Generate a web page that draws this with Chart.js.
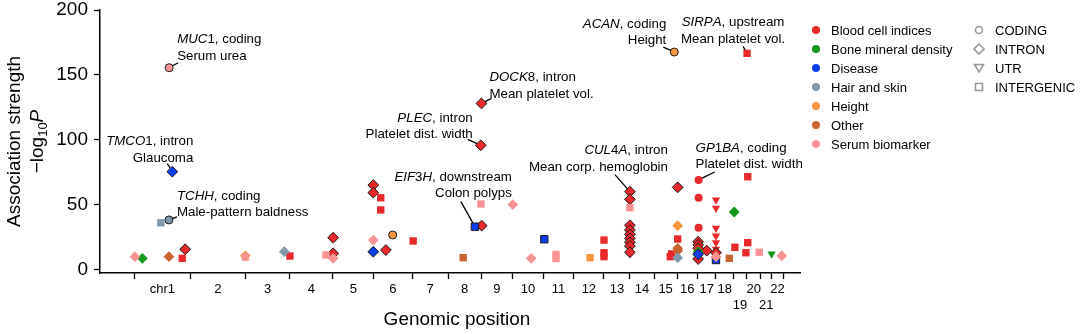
<!DOCTYPE html>
<html>
<head>
<meta charset="utf-8">
<script src="https://cdn.jsdelivr.net/npm/chart.js@4.4.1/dist/chart.umd.min.js"></script>
<style>
  body { margin: 0; background: #fff; }
  #wrap { width: 1080px; height: 334px; }
</style>
</head>
<body>
<div id="wrap"><canvas id="chart" width="1080" height="334"></canvas></div>
<script>
var FONT = '"Liberation Sans", Arial, sans-serif';

// chromosome sizes in Mb (GRCh37), laid end to end along the x axis
var chromNames = ["chr1", "2", "3", "4", "5", "6", "7", "8", "9", "10", "11",
  "12", "13", "14", "15", "16", "17", "18", "19", "20", "21", "22"];
var chromLengths = [249.3, 243.2, 198.0, 191.2, 180.9, 171.1, 159.1, 146.4,
  141.2, 135.5, 135.0, 133.9, 115.2, 107.3, 102.5, 90.4, 81.2, 78.1, 59.1,
  63.0, 48.1, 51.3];
// these two labels sit one line lower so they don't run into neighbours
var loweredLabels = ["19", "21"];
var yTicks = [0, 50, 100, 150, 200];

// [genome position (Mb), -log10 P, consequence, lead variant]
// consequence: c = coding, i = intron, u = UTR, g = intergenic
var bloodCell = [
  [226, 15.6, "i", 1], [213, 8.6, "g", 0], [691, 10.4, "g", 0],
  [883, 24.5, "i", 1], [883, 12.5, "i", 1],
  [1061, 65.1, "i", 1], [1061, 59.2, "i", 1],
  [1094, 55.3, "g", 0], [1094, 45.9, "g", 0],
  [1117, 15, "i", 1], [1238, 22, "g", 0],
  [1542, 33.8, "i", 1], [1541, 128, "i", 1], [1538, 95.7, "i", 1],
  [2085, 22.7, "g", 0], [2085, 12.9, "g", 0], [2085, 9.9, "g", 0],
  [2200, 60, "i", 1], [2200, 54.1, "i", 1], [2200, 34.1, "i", 1],
  [2200, 30.4, "i", 1], [2200, 27.1, "i", 1], [2200, 24, "i", 1],
  [2200, 21, "i", 1], [2200, 18.1, "i", 1], [2200, 13.3, "i", 1],
  [2385, 12, "g", 0], [2379, 9.9, "g", 0],
  [2412, 63.3, "i", 1], [2412, 23.5, "g", 0],
  [2505, 69, "c", 0], [2505, 55.3, "c", 0], [2505, 32.2, "c", 0],
  [2503, 21.4, "i", 1], [2503, 18.9, "i", 1], [2503, 16.3, "i", 1],
  [2503, 8.1, "i", 1], [2541, 14.5, "i", 1],
  [2582, 53.6, "u", 0], [2582, 47.2, "u", 0], [2582, 31.8, "u", 0],
  [2582, 25.8, "u", 0], [2582, 20.7, "u", 0], [2582, 15.6, "u", 0],
  [2582, 12.9, "i", 1], [2666, 17.1, "g", 0],
  [2720, 166.6, "g", 0], [2723, 71.5, "g", 0], [2723, 20.7, "g", 0],
  [2715, 12.9, "g", 0]
];
var boneDensity = [
  [36, 8.6, "i", 0], [2663, 44.3, "i", 0], [2829, 12, "u", 0], [2503, 13.7, "i", 0]
];
var disease = [
  [169, 75.4, "i", 1], [1061, 13.7, "i", 1], [1512, 33, "g", 1],
  [1820, 23.3, "g", 1], [2503, 11.7, "i", 1], [2582, 7.3, "g", 1]
];
var hairSkin = [
  [118, 36, "g", 0], [154, 38.2, "c", 1], [666, 13.7, "i", 0], [2412, 9.1, "i", 0]
];
var height = [
  [2397, 167.6, "c", 1], [1147, 26.6, "c", 1], [2023, 9.1, "g", 0],
  [2412, 33.8, "i", 0], [493, 10.5, "i", 0]
];
var other = [
  [154, 9.9, "i", 0], [1460, 9.1, "g", 0], [2412, 16.3, "i", 0],
  [2412, 14.5, "i", 0], [2641, 8.6, "g", 0]
];
var serum = [
  [155, 155.5, "c", 1], [3, 9.9, "i", 0], [493, 9.6, "g", 0], [851, 11.2, "g", 0],
  [883, 8.6, "i", 0], [1061, 22.7, "i", 0], [1539, 50.5, "g", 0],
  [1680, 50, "i", 0], [1762, 8.6, "i", 0], [1872, 11.5, "g", 0],
  [1872, 8.5, "g", 0], [2200, 47.6, "g", 0], [2582, 9.9, "i", 0],
  [2774, 13.3, "g", 0], [2874, 10.6, "i", 0]
];

// labelled hits: gene, consequence, trait, and the point they belong to
var callouts = [
  ["MUC1", "coding", "Serum urea", 155, 155.5],
  ["TMCO1", "intron", "Glaucoma", 169, 75.4],
  ["TCHH", "coding", "Male-pattern baldness", 154, 38.2],
  ["ACAN", "coding", "Height", 2397, 167.6],
  ["SIRPA", "upstream", "Mean platelet vol.", 2720, 166.6],
  ["DOCK8", "intron", "Mean platelet vol.", 1541, 128],
  ["PLEC", "intron", "Platelet dist. width", 1538, 95.7],
  ["EIF3H", "downstream", "Colon polyps", 1512, 33],
  ["CUL4A", "intron", "Mean corp. hemoglobin", 2200, 60],
  ["GP1BA", "coding", "Platelet dist. width", 2505, 69]
];

// text placement for each callout, in px relative to its point:
// text anchor (tx, ty = first line centre), alignment, leader end (lx, ly)
var calloutLayout = {
  MUC1:  { tx: 8,   ty: -28,  align: "left",   lx: 9,   ly: -5 },
  TMCO1: { tx: 21,  ty: -30,  align: "right",  lx: -5,  ly: -8 },
  TCHH:  { tx: 8,   ty: -24,  align: "left",   lx: 8,   ly: -3 },
  ACAN:  { tx: -8,  ty: -28,  align: "right",  lx: -11, ly: -5 },
  SIRPA: { tx: -14, ty: -30.6, align: "center", lx: -4,  ly: -7 },
  DOCK8: { tx: 8,   ty: -26,  align: "left",   lx: 10,  ly: -5 },
  PLEC:  { tx: -8,  ty: -27,  align: "right",  lx: -13, ly: -6 },
  EIF3H: { tx: 37,  ty: -49.4, align: "right",  lx: -14, ly: -25 },
  CUL4A: { tx: 38,  ty: -41,  align: "right",  lx: -15, ly: -17 },
  GP1BA: { tx: -3,  ty: -31.7, align: "left",   lx: 16,  ly: -8 }
};

// drawn bottom to top
var groups = [
  { label: "Blood cell indices", color: "#e8282a", points: bloodCell },
  { label: "Other", color: "#c9642e", points: other },
  { label: "Height", color: "#f5973f", points: height },
  { label: "Bone mineral density", color: "#13991a", points: boneDensity },
  { label: "Hair and skin", color: "#7f98aa", points: hairSkin },
  { label: "Disease", color: "#0d3ff0", points: disease },
  { label: "Serum biomarker", color: "#f99393", points: serum }
];
var legendOrder = ["Blood cell indices", "Bone mineral density", "Disease",
  "Hair and skin", "Height", "Other", "Serum biomarker"];
var shapeLegend = [["c", "CODING"], ["i", "INTRON"], ["u", "UTR"], ["g", "INTERGENIC"]];

var markerStyle = {
  c: { style: "circle", radius: 4, rotation: 0 },
  i: { style: "rectRot", radius: 5.4, rotation: 0 },
  u: { style: "triangle", radius: 4.8, rotation: 180 },
  g: { style: "rect", radius: 5.2, rotation: 0 }
};

// chromosome boundaries and mid points
var bounds = [0];
chromLengths.forEach(function (len, i) { bounds.push(bounds[i] + len); });
var xTicks = bounds.map(function (b) { return { value: b, name: null }; });
chromNames.forEach(function (name, i) {
  xTicks.push({ value: (bounds[i] + bounds[i + 1]) / 2, name: name });
});
xTicks.sort(function (a, b) { return a.value - b.value; });

var datasets = groups.map(function (g, gi) {
  return {
    label: g.label,
    order: groups.length - gi,
    data: g.points.map(function (p) { return { x: p[0], y: p[1] }; }),
    backgroundColor: g.color,
    pointStyle: g.points.map(function (p) { return markerStyle[p[2]].style; }),
    pointRadius: g.points.map(function (p) { return markerStyle[p[2]].radius; }),
    pointRotation: g.points.map(function (p) { return markerStyle[p[2]].rotation; }),
    pointBorderColor: g.points.map(function (p) { return p[3] ? "#1a1a1a" : g.color; }),
    pointBorderWidth: g.points.map(function (p) { return p[3] ? 1 : 0; }),
    pointHoverRadius: g.points.map(function (p) { return markerStyle[p[2]].radius; }),
    showLine: false
  };
});

function font(size, style) {
  return (style ? style + " " : "") + size + "px " + FONT;
}

var axisTitles = {
  id: "axisTitles",
  afterDraw: function (chart) {
    var ctx = chart.ctx;
    var cy = (chart.chartArea.top + chart.chartArea.bottom) / 2;
    ctx.save();
    ctx.fillStyle = "#000";
    ctx.textBaseline = "middle";
    ctx.textAlign = "center";
    ctx.font = font(19);
    ctx.fillText("Genomic position", 457, 320);
    ctx.translate(15, cy);
    ctx.rotate(-Math.PI / 2);
    ctx.fillText("Association strength", 0, 0);
    ctx.restore();

    // second line: −log10 P with subscript
    ctx.save();
    ctx.fillStyle = "#000";
    ctx.textBaseline = "middle";
    ctx.translate(38, cy);
    ctx.rotate(-Math.PI / 2);
    ctx.textAlign = "left";
    ctx.font = font(19);
    var w1 = ctx.measureText("\u2212log").width;
    ctx.font = font(13);
    var w2 = ctx.measureText("10").width;
    ctx.font = font(19, "italic");
    var w3 = ctx.measureText("P").width;
    var x = -(w1 + w2 + w3) / 2;
    ctx.font = font(19);
    ctx.fillText("\u2212log", x, 0);
    ctx.font = font(13);
    ctx.fillText("10", x + w1, 5);
    ctx.font = font(19, "italic");
    ctx.fillText("P", x + w1 + w2, 0);
    ctx.restore();
  }
};

function shapePath(ctx, kind, x, y) {
  ctx.beginPath();
  if (kind === "c") {
    ctx.arc(x, y, 3.5, 0, Math.PI * 2);
  } else if (kind === "i") {
    ctx.moveTo(x, y - 5); ctx.lineTo(x + 5, y); ctx.lineTo(x, y + 5); ctx.lineTo(x - 5, y);
    ctx.closePath();
  } else if (kind === "u") {
    ctx.moveTo(x - 4.5, y - 3.5); ctx.lineTo(x + 4.5, y - 3.5); ctx.lineTo(x, y + 4);
    ctx.closePath();
  } else {
    ctx.rect(x - 3.5, y - 3.5, 7, 7);
  }
}

var sideLegend = {
  id: "sideLegend",
  afterDraw: function (chart) {
    var ctx = chart.ctx;
    ctx.save();
    ctx.font = font(13);
    ctx.textBaseline = "middle";
    legendOrder.forEach(function (name, i) {
      var g = groups.filter(function (d) { return d.label === name; })[0];
      var y = 30 + 19 * i;
      ctx.fillStyle = g.color;
      ctx.beginPath();
      ctx.arc(816, y, 4, 0, Math.PI * 2);
      ctx.fill();
      ctx.fillStyle = "#000";
      ctx.fillText(name, 831, y + 1);
    });
    shapeLegend.forEach(function (s, i) {
      var y = 30 + 19 * i;
      ctx.strokeStyle = "#9a9a9a";
      ctx.lineWidth = 1.6;
      shapePath(ctx, s[0], 979, y);
      ctx.stroke();
      ctx.fillStyle = "#000";
      ctx.fillText(s[1], 995, y + 1);
    });
    ctx.restore();
  }
};

var calloutLabels = {
  id: "calloutLabels",
  afterDatasetsDraw: function (chart) {
    var ctx = chart.ctx;
    var xs = chart.scales.x, ys = chart.scales.y;
    ctx.save();
    ctx.textBaseline = "middle";
    ctx.fillStyle = "#000";
    ctx.strokeStyle = "#000";
    ctx.lineWidth = 1.3;
    callouts.forEach(function (c) {
      var L = calloutLayout[c[0]];
      var px = xs.getPixelForValue(c[3]);
      var py = ys.getPixelForValue(c[4]);

      // leader line, starting just outside the marker
      var ex = px + L.lx, ey = py + L.ly;
      var d = Math.hypot(L.lx, L.ly);
      ctx.beginPath();
      ctx.moveTo(px + L.lx / d * 4, py + L.ly / d * 4);
      ctx.lineTo(ex, ey);
      ctx.stroke();

      // first line: gene (letters italic, digits upright) + consequence
      var parts = [];
      c[0].split("").forEach(function (ch) {
        parts.push([ch, /[0-9]/.test(ch) ? font(13.3) : font(13.3, "italic")]);
      });
      parts.push([", " + c[1], font(13.3)]);
      var w1 = 0;
      parts.forEach(function (p) { ctx.font = p[1]; p.push(ctx.measureText(p[0]).width); w1 += p[2]; });
      ctx.font = font(13.3);
      var w2 = ctx.measureText(c[2]).width;

      var ax = px + L.tx, ay = py + L.ty;
      function startX(w) {
        if (L.align === "left") return ax;
        if (L.align === "right") return ax - w;
        return ax - w / 2;
      }
      var x = startX(w1);
      ctx.textAlign = "left";
      parts.forEach(function (p) { ctx.font = p[1]; ctx.fillText(p[0], x, ay); x += p[2]; });
      ctx.font = font(13.3);
      ctx.fillText(c[2], startX(w2), ay + 16.5);
    });
    ctx.restore();
  }
};

var ctx = document.getElementById("chart").getContext("2d");

var chart = new Chart(ctx, {
  type: "scatter",
  data: { datasets: datasets },
  plugins: [axisTitles, sideLegend, calloutLabels],
  options: {
    responsive: false,
    animation: false,
    devicePixelRatio: 1,
    layout: { padding: { top: 10, right: 280, left: 0, bottom: 0 } },
    plugins: { legend: { display: false }, tooltip: { enabled: false } },
    scales: {
      x: {
        type: "linear",
        min: -152,
        max: 2955,
        afterBuildTicks: function (s) {
          s.ticks = xTicks.map(function (t) { return { value: t.value, name: t.name }; });
        },
        afterFit: function (s) {
          s.height = 61;
          s.paddingLeft = 0;
          s.paddingRight = 0;
        },
        ticks: {
          autoSkip: false,
          maxRotation: 0,
          minRotation: 0,
          padding: 3,
          color: "#000",
          font: { family: FONT, size: 13 },
          callback: function (value, index, ticks) {
            var n = ticks[index].name;
            if (!n) return "";
            return loweredLabels.indexOf(n) >= 0 ? ["", n] : n;
          }
        },
        grid: {
          drawOnChartArea: false,
          drawTicks: true,
          tickLength: 6,
          tickWidth: 1.3,
          tickColor: function (c) {
            return c.tick && c.tick.name ? "rgba(0,0,0,0)" : "#000";
          }
        },
        border: { display: true, color: "#000", width: 1.5 }
      },
      y: {
        type: "linear",
        min: -2.7,
        max: 200,
        afterBuildTicks: function (s) {
          s.ticks = yTicks.map(function (v) { return { value: v }; });
        },
        afterFit: function (s) {
          s.width = 100;
          s.paddingTop = 0;
          s.paddingBottom = 0;
        },
        ticks: {
          color: "#000",
          padding: 6,
          font: { family: FONT, size: 19 }
        },
        grid: {
          drawOnChartArea: false,
          tickLength: 6,
          tickWidth: 1.3,
          tickColor: "#000"
        },
        border: { display: true, color: "#000", width: 1.5 }
      }
    }
  }
});
</script>
</body>
</html>
